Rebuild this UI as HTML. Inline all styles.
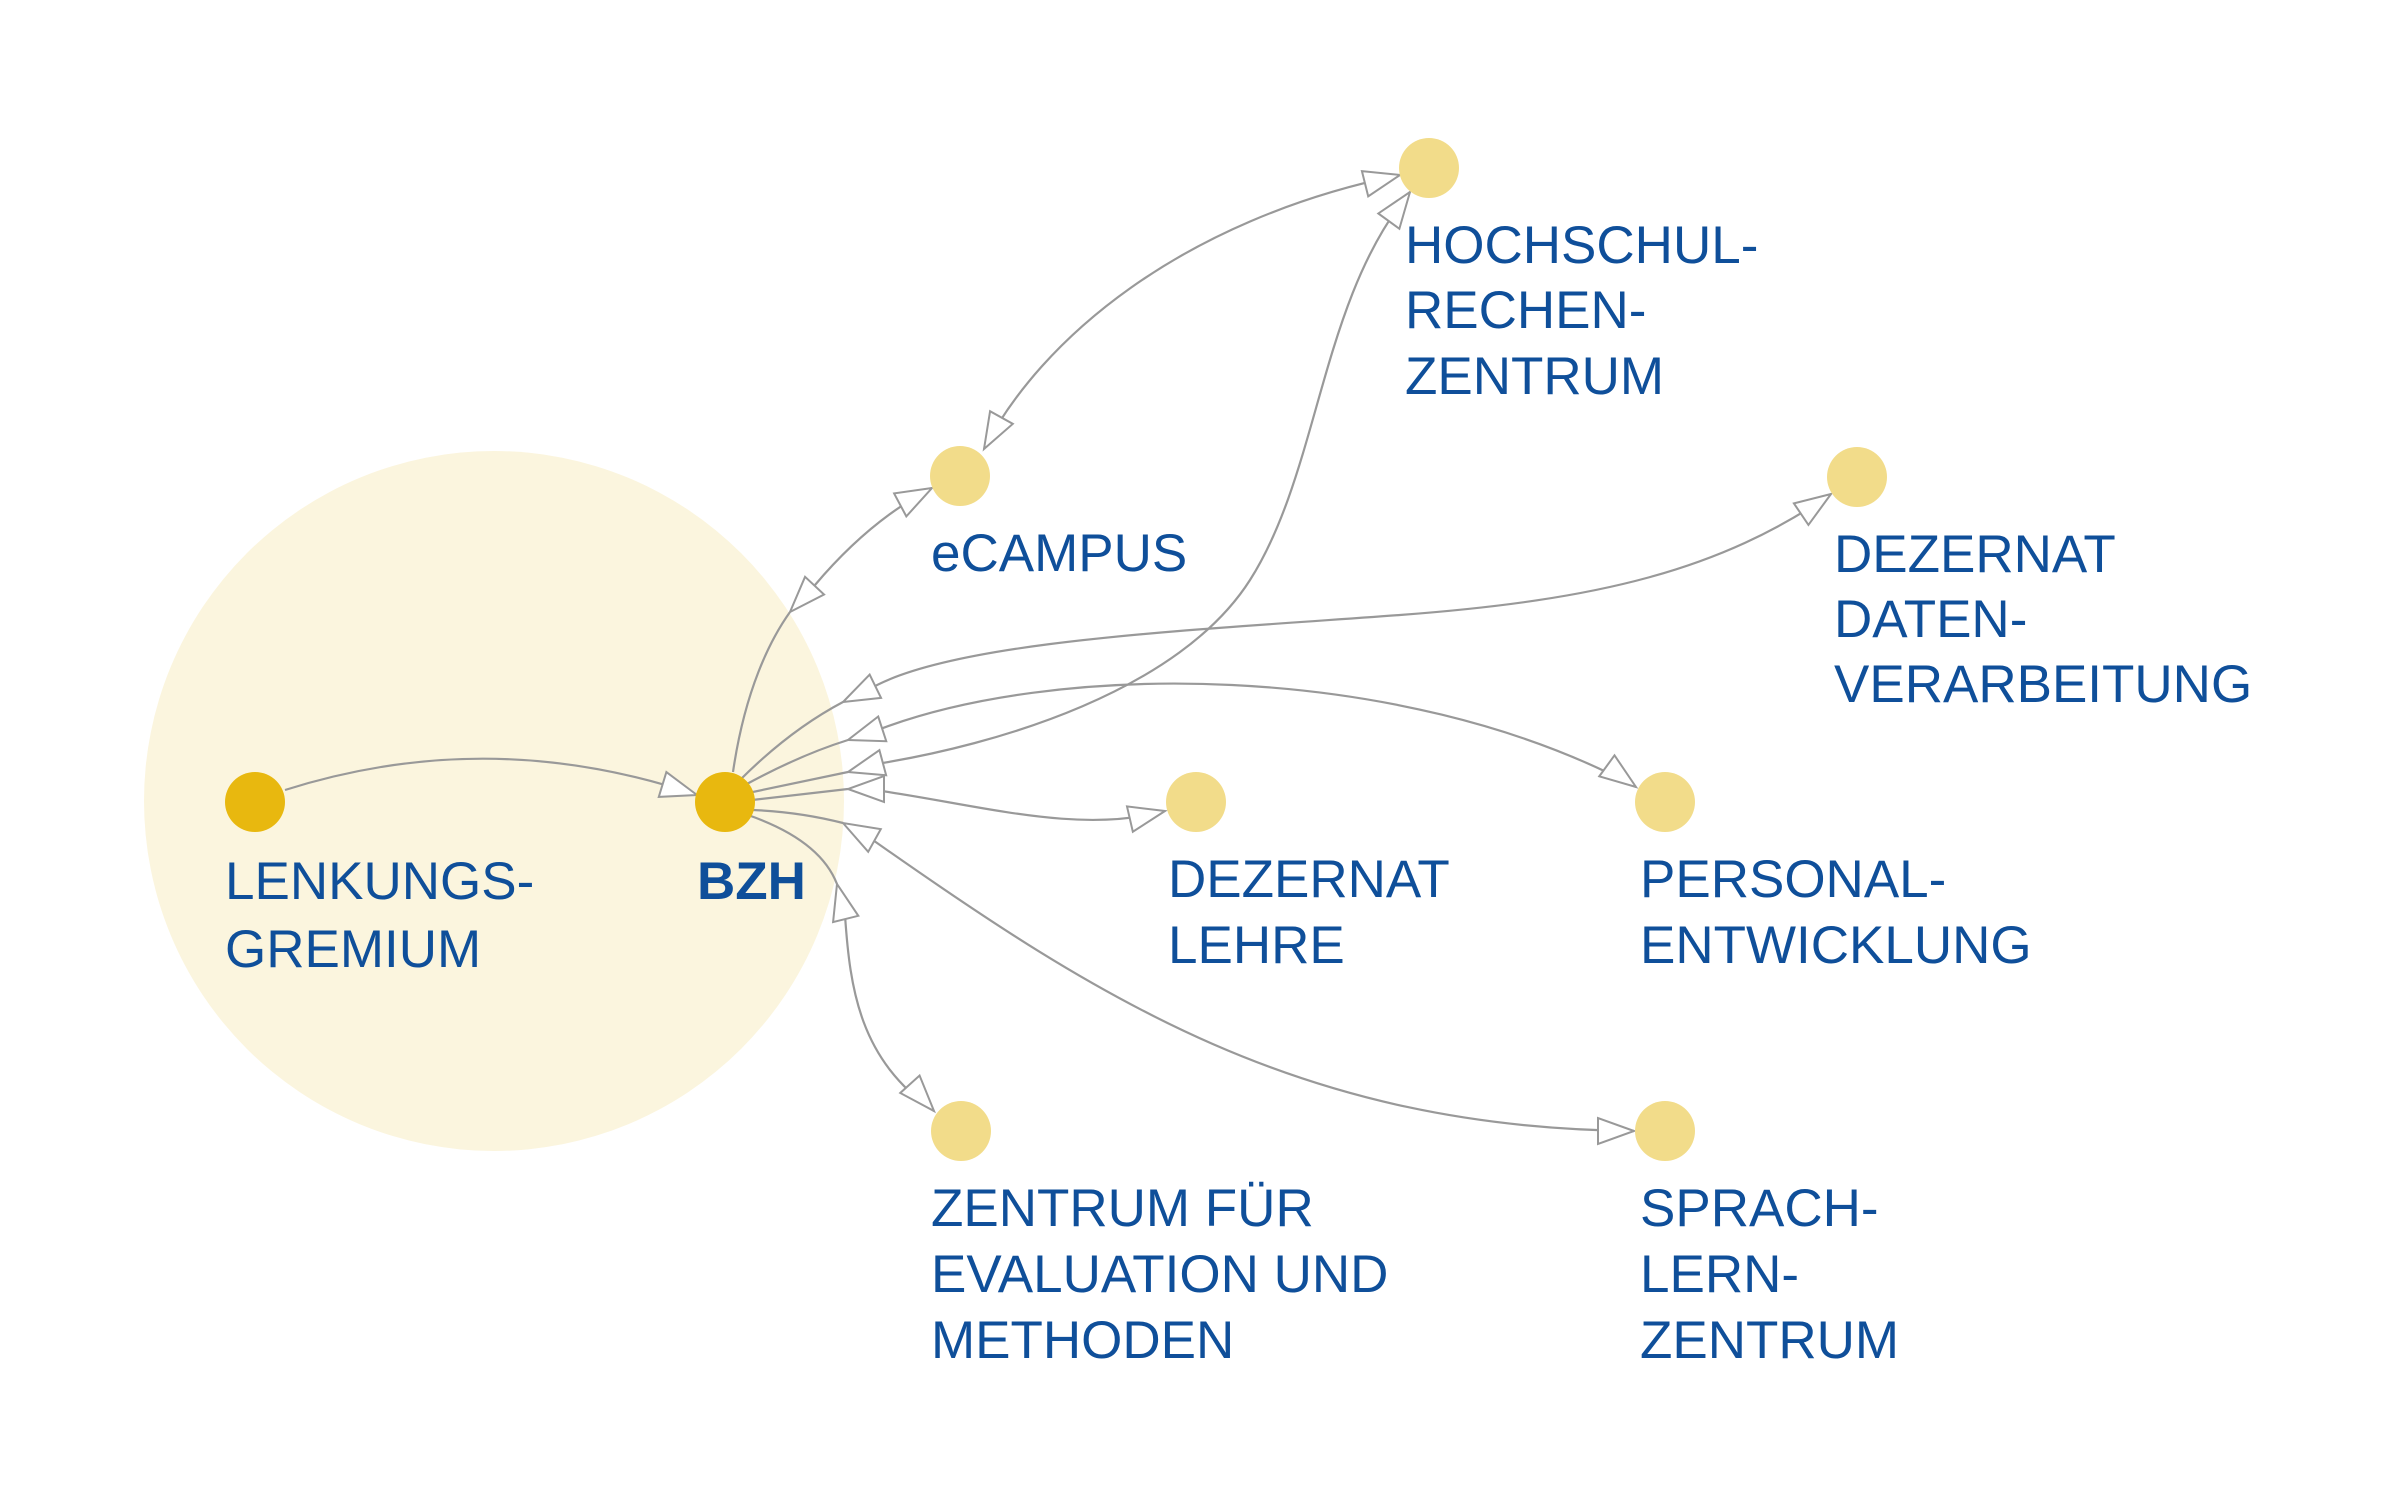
<!DOCTYPE html>
<html><head><meta charset="utf-8"><style>
html,body{margin:0;padding:0;background:#fff;}
svg{display:block;}
text{font-family:"Liberation Sans",sans-serif;font-size:53px;fill:#0F4F9A;}
</style></head><body>
<svg width="2400" height="1510" viewBox="0 0 2400 1510" xmlns="http://www.w3.org/2000/svg">
<defs>
<polygon id="ah" points="0,0 -36,-13 -36,13" fill="#fff" stroke="#999" stroke-width="2" stroke-linejoin="miter"/>
</defs>
<circle cx="494" cy="801" r="350" fill="#FBF5DE"/>
<g fill="none" stroke="#999" stroke-width="2.2">
<path d="M285,790 Q490,725 697,795"/>
<path d="M733,772 C745,690 770,640 790,612"/>
<path d="M815,585 Q870,520 932,488"/>
<path d="M984,449 C1040,340 1180,220 1400,175"/>
<path d="M868,690 C950,640 1200,630 1400,615 C1600,600 1720,570 1831,494"/>
<path d="M870,733 C1050,660 1400,660 1636,787"/>
<path d="M870,765 C1000,745 1180,690 1250,580 C1320,470 1320,300 1410,192"/>
<path d="M875,790 C980,805 1080,835 1165,811"/>
<path d="M870,838 C1100,1000 1300,1128 1634,1131"/>
<path d="M845,915 C850,990 860,1060 934,1111"/>
<path d="M740,780 Q790,730 843,702"/>
<path d="M745,785 Q800,755 848,740"/>
<path d="M748,793 L848,772"/>
<path d="M752,800 L848,789"/>
<path d="M753,810 Q800,812 843,823"/>
<path d="M748,815 Q820,840 837,884"/>
</g>
<use href="#ah" transform="translate(697,795) rotate(17)"/>
<use href="#ah" transform="translate(790,612) rotate(133)"/>
<use href="#ah" transform="translate(932,488) rotate(-28)"/>
<use href="#ah" transform="translate(984,449) rotate(119)"/>
<use href="#ah" transform="translate(1400,175) rotate(-14)"/>
<use href="#ah" transform="translate(1410,192) rotate(-54)"/>
<use href="#ah" transform="translate(1831,494) rotate(-34)"/>
<use href="#ah" transform="translate(1165,811) rotate(-13)"/>
<use href="#ah" transform="translate(1636,787) rotate(36)"/>
<use href="#ah" transform="translate(1634,1131) rotate(0)"/>
<use href="#ah" transform="translate(934,1111) rotate(48)"/>
<use href="#ah" transform="translate(843,702) rotate(154)"/>
<use href="#ah" transform="translate(848,740) rotate(162)"/>
<use href="#ah" transform="translate(848,772) rotate(165)"/>
<use href="#ah" transform="translate(848,789) rotate(180)"/>
<use href="#ah" transform="translate(843,823) rotate(209)"/>
<use href="#ah" transform="translate(837,884) rotate(-104)"/>

<circle cx="255" cy="802" r="30" fill="#E8B80F"/>
<circle cx="725" cy="802" r="30" fill="#E8B80F"/>
<circle cx="960" cy="476" r="30" fill="#F2DC8A"/>
<circle cx="1429" cy="168" r="30" fill="#F2DC8A"/>
<circle cx="1857" cy="477" r="30" fill="#F2DC8A"/>
<circle cx="1196" cy="802" r="30" fill="#F2DC8A"/>
<circle cx="1665" cy="802" r="30" fill="#F2DC8A"/>
<circle cx="961" cy="1131" r="30" fill="#F2DC8A"/>
<circle cx="1665" cy="1131" r="30" fill="#F2DC8A"/>

<text x="225" y="899">LENKUNGS-</text>
<text x="225" y="967">GREMIUM</text>
<text x="697" y="899" font-weight="bold">BZH</text>
<text x="931" y="571">eCAMPUS</text>
<text x="1405" y="263">HOCHSCHUL-</text>
<text x="1405" y="328">RECHEN-</text>
<text x="1405" y="394">ZENTRUM</text>
<text x="1834" y="572">DEZERNAT</text>
<text x="1834" y="637">DATEN-</text>
<text x="1834" y="702">VERARBEITUNG</text>
<text x="1168" y="897">DEZERNAT</text>
<text x="1168" y="963">LEHRE</text>
<text x="1640" y="897">PERSONAL-</text>
<text x="1640" y="963">ENTWICKLUNG</text>
<text x="931" y="1226">ZENTRUM FÜR</text>
<text x="931" y="1292">EVALUATION UND</text>
<text x="931" y="1358">METHODEN</text>
<text x="1640" y="1226">SPRACH-</text>
<text x="1640" y="1292">LERN-</text>
<text x="1640" y="1358">ZENTRUM</text>
</svg>
</body></html>
